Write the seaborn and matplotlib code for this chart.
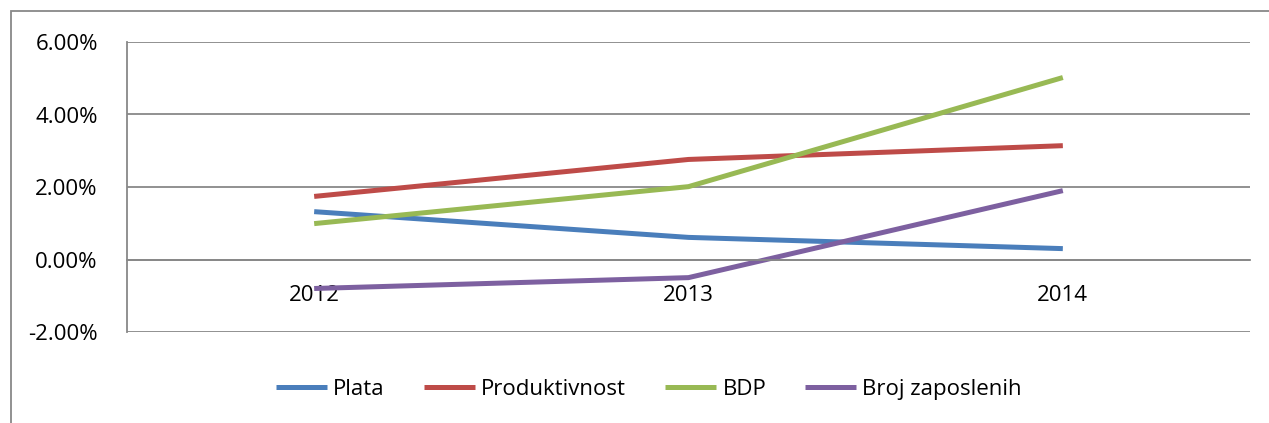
import pandas as pd
import seaborn as sns
import matplotlib.pyplot as plt
from matplotlib.patches import Rectangle
from matplotlib.ticker import FuncFormatter

years = ['2012', '2013', '2014']
plata = [1.32, 0.61, 0.30]
produktivnost = [1.74, 2.76, 3.14]
bdp = [0.99, 2.01, 5.02]
broj_zaposlenih = [-0.80, -0.50, 1.90]

series = ['Plata', 'Produktivnost', 'BDP', 'Broj zaposlenih']
colors = ['#4A7EBB', '#BE4B48', '#98B954', '#7D60A0']
yticks = [-2, 0, 2, 4, 6]

df = pd.DataFrame({
    'godina': years * 4,
    'vrijednost': plata + produktivnost + bdp + broj_zaposlenih,
    'serija': sum([[s] * 3 for s in series], []),
})

sns.set_style('white')
plt.rcParams['font.family'] = ['Open Sans', 'DejaVu Sans']
plt.rcParams['text.color'] = 'black'
plt.rcParams['xtick.color'] = 'black'
plt.rcParams['ytick.color'] = 'black'

fig = plt.figure(figsize=(12.69, 4.23), dpi=100)
ax = fig.add_axes([127 / 1269, 1 - 332 / 423, (1250 - 127) / 1269, (332 - 42) / 423])

sns.lineplot(data=df, x='godina', y='vrijednost', hue='serija', hue_order=series,
             palette=colors, linewidth=3.6, ax=ax, legend=False,
             solid_capstyle='butt')

ax.set_xlim(-0.5, 2.5)
ax.set_ylim(-2, 6)
ax.set_yticks(yticks)
ax.yaxis.set_major_formatter(FuncFormatter(lambda v, p: f'{v:.2f}%'))
ax.grid(axis='y', color='#888888', linewidth=1.3)
ax.set_axisbelow(True)
ax.set_xlabel('')
ax.set_ylabel('')

for s in ['top', 'right']:
    ax.spines[s].set_visible(False)
ax.spines['left'].set_color('#888888')
ax.spines['left'].set_linewidth(1.3)
ax.spines['bottom'].set_position(('data', 0))
ax.spines['bottom'].set_color('#888888')
ax.spines['bottom'].set_linewidth(1.3)

ax.tick_params(axis='y', length=0, pad=21, labelsize=16)
ax.tick_params(axis='x', length=0, pad=18, labelsize=16)

handles = [plt.Line2D([], [], color=c, linewidth=3.6, solid_capstyle='butt') for c in colors]
fig.legend(handles, series, loc='center', bbox_to_anchor=(649 / 1269, 1 - 389 / 423),
           ncol=4, frameon=False, fontsize=16, handlelength=2.3,
           handletextpad=0.28, columnspacing=1.75)

fig.patches.append(Rectangle((11 / 1269, -1), 2, 1 + 1 - 11 / 423, transform=fig.transFigure,
                             fill=False, edgecolor='#888888', linewidth=1.3))

fig.savefig('out.png', dpi=100)
